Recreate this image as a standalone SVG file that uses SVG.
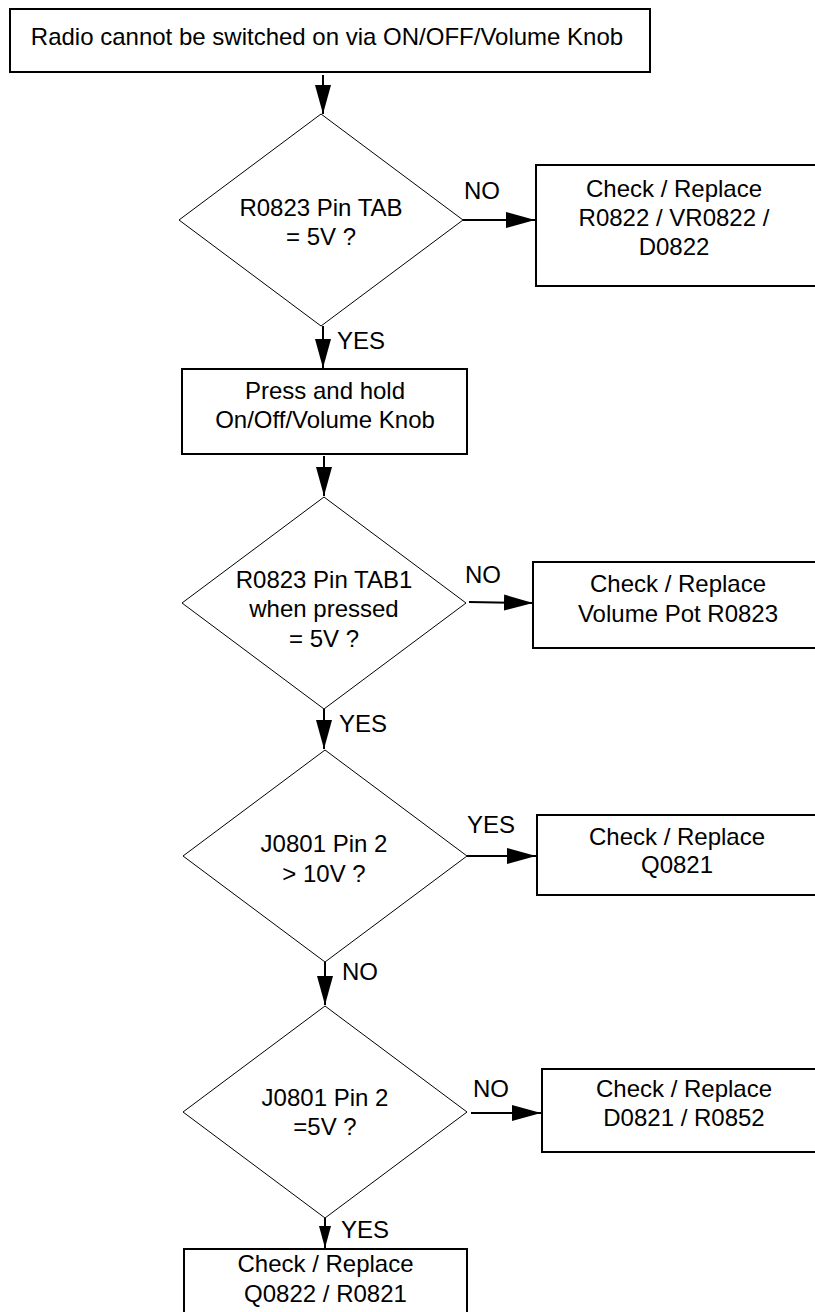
<svg xmlns="http://www.w3.org/2000/svg" width="815" height="1312" viewBox="0 0 815 1312">
<style>
.box{fill:#fff;stroke:#000;stroke-width:2}
.dia{fill:#fff;stroke:#000;stroke-width:1}
.t{font-family:"Liberation Sans",Arial,sans-serif;font-size:24px;fill:#000;text-anchor:middle}
.l{font-family:"Liberation Sans",Arial,sans-serif;font-size:24px;fill:#000}
.c{stroke:#000;stroke-width:2;fill:none;marker-end:url(#ah)}
.c2{stroke:#000;stroke-width:2;fill:none;marker-end:url(#ah2)}
</style>
<defs>
<marker id="ah" markerUnits="userSpaceOnUse" markerWidth="30" markerHeight="18" refX="29" refY="8" orient="auto" viewBox="0 0 30 16">
<path d="M0,0 L29,8 L0,16 z" fill="#000"/>
</marker>
<marker id="ah2" markerUnits="userSpaceOnUse" markerWidth="24" markerHeight="14" refX="22" refY="6" orient="auto" viewBox="0 0 24 12">
<path d="M0,0 L22,6 L0,12 z" fill="#000"/>
</marker>
</defs>
<rect width="815" height="1312" fill="#fff"/>
<g id="connectors">
<line class="c" x1="323" y1="75" x2="323" y2="114"/>
<line class="c" x1="463" y1="220" x2="535" y2="220"/>
<line class="c" x1="323" y1="326" x2="323" y2="368"/>
<line class="c" x1="324" y1="456" x2="324" y2="496"/>
<line class="c" x1="469" y1="602" x2="533" y2="603"/>
<line class="c" x1="324" y1="709" x2="324" y2="749"/>
<line class="c" x1="467" y1="856" x2="536" y2="856"/>
<line class="c" x1="325" y1="962" x2="325" y2="1005"/>
<line class="c" x1="471" y1="1113" x2="541" y2="1113"/>
<line class="c2" x1="325" y1="1218" x2="325" y2="1248"/>
<text class="l" x="464" y="199">NO</text>
<text class="l" x="337" y="349">YES</text>
<text class="l" x="465" y="583">NO</text>
<text class="l" x="339" y="732">YES</text>
<text class="l" x="467" y="833">YES</text>
<text class="l" x="342" y="980">NO</text>
<text class="l" x="473" y="1097">NO</text>
<text class="l" x="341" y="1238">YES</text>
</g>
<g id="start">
<rect class="box" x="10" y="9" width="640" height="63"/>
<text class="t" x="327" y="45">Radio cannot be switched on via ON/OFF/Volume Knob</text>
</g>
<g id="d1">
<polygon class="dia" points="321,114 463,220 321,326 179,220"/>
<text class="t" x="321" y="216">R0823 Pin TAB</text>
<text class="t" x="321" y="245">= 5V ?</text>
</g>
<g id="b1">
<rect class="box" x="536" y="165" width="290" height="121"/>
<text class="t" x="674" y="197">Check / Replace</text>
<text class="t" x="674" y="226">R0822 / VR0822 /</text>
<text class="t" x="674" y="255">D0822</text>
</g>
<g id="press">
<rect class="box" x="182" y="369" width="285" height="85"/>
<text class="t" x="325" y="399">Press and hold</text>
<text class="t" x="325" y="428">On/Off/Volume Knob</text>
</g>
<g id="d2">
<polygon class="dia" points="324,497 466,603 324,709 182,603"/>
<text class="t" x="324" y="588">R0823 Pin TAB1</text>
<text class="t" x="324" y="617">when pressed</text>
<text class="t" x="324" y="647">= 5V ?</text>
</g>
<g id="b2">
<rect class="box" x="533" y="562" width="290" height="86"/>
<text class="t" x="678" y="592">Check / Replace</text>
<text class="t" x="678" y="622">Volume Pot R0823</text>
</g>
<g id="d3">
<polygon class="dia" points="325,750 467,856 325,962 183,856"/>
<text class="t" x="324" y="852">J0801 Pin 2</text>
<text class="t" x="324" y="882">&gt; 10V ?</text>
</g>
<g id="b3">
<rect class="box" x="537" y="815" width="290" height="80"/>
<text class="t" x="677" y="845">Check / Replace</text>
<text class="t" x="677" y="873">Q0821</text>
</g>
<g id="d4">
<polygon class="dia" points="325,1006 467,1112 325,1218 183,1112"/>
<text class="t" x="325" y="1106">J0801 Pin 2</text>
<text class="t" x="325" y="1135">=5V ?</text>
</g>
<g id="b4">
<rect class="box" x="542" y="1069" width="290" height="83"/>
<text class="t" x="684" y="1097">Check / Replace</text>
<text class="t" x="684" y="1126">D0821 / R0852</text>
</g>
<g id="b5">
<rect class="box" x="184" y="1249" width="283" height="70"/>
<text class="t" x="325.5" y="1272">Check / Replace</text>
<text class="t" x="325.5" y="1302">Q0822 / R0821</text>
</g>
</svg>
